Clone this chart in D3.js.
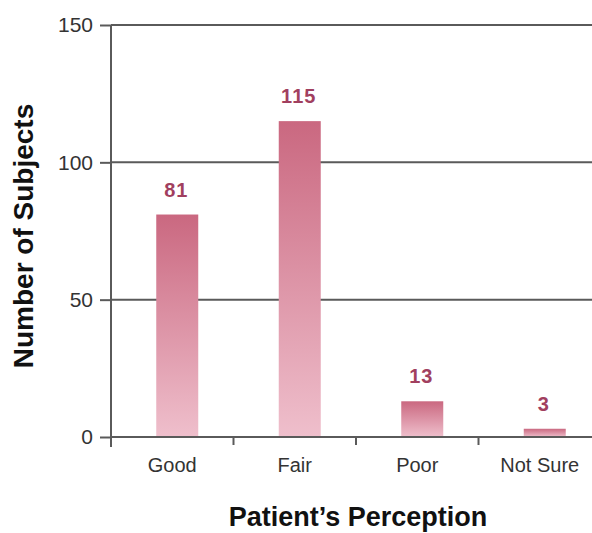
<!DOCTYPE html>
<html>
<head>
<meta charset="utf-8">
<script src="https://cdn.jsdelivr.net/npm/d3@7"></script>
<style>
  html, body { margin: 0; padding: 0; background: #fff; }
  svg { display: block; }
</style>
</head>
<body>
<script>
const categories = ["Good", "Fair", "Poor", "Not Sure"];
const values = [81, 115, 13, 3];
const yTicks = [0, 50, 100, 150];

const W = 592, H = 533;
const svg = d3.select("body").append("svg").attr("width", W).attr("height", H);

const x = d3.scaleBand().domain(categories).range([111, 601]);
const y = d3.scaleLinear().domain([0, 150]).range([437, 25]);

const defs = svg.append("defs");
const grad = defs.append("linearGradient").attr("id", "barGrad")
  .attr("x1", 0).attr("y1", 0).attr("x2", 0).attr("y2", 1);
grad.append("stop").attr("offset", "0%").attr("stop-color", "#ca6880");
grad.append("stop").attr("offset", "100%").attr("stop-color", "#efbfcc");

const lineColor = "#5a5a5a";

// gridlines
svg.append("g").selectAll("line").data(yTicks.filter(t => t > 0)).join("line")
  .attr("x1", 111).attr("x2", W)
  .attr("y1", d => y(d)).attr("y2", d => y(d))
  .attr("stroke", lineColor).attr("stroke-width", 2);

// bars
const barW = 42;
const barOffset = 5;
svg.append("g").selectAll("rect").data(categories).join("rect")
  .attr("x", (d) => x(d) + x.bandwidth() / 2 + barOffset - barW / 2)
  .attr("width", barW)
  .attr("y", (d, i) => y(values[i]))
  .attr("height", (d, i) => y(0) - y(values[i]))
  .attr("fill", "url(#barGrad)");

// value labels
svg.append("g").selectAll("text").data(categories).join("text")
  .attr("x", d => x(d) + x.bandwidth() / 2 + barOffset - 1)
  .attr("y", (d, i) => y(values[i]) - 18)
  .attr("text-anchor", "middle")
  .attr("font-family", "Liberation Sans, Arial, sans-serif")
  .attr("font-weight", "bold")
  .attr("font-size", 20)
  .attr("letter-spacing", 1)
  .attr("fill", "#a13f5f")
  .text((d, i) => values[i]);

// y axis
const yAxis = d3.axisLeft(y).tickValues(yTicks).tickSize(11).tickPadding(7);
const gy = svg.append("g").attr("transform", "translate(111,0)").call(yAxis);
gy.select(".domain").remove();
gy.append("line").attr("x1", 0).attr("x2", 0).attr("y1", y(150)).attr("y2", 447)
  .attr("stroke", lineColor).attr("stroke-width", 2);
gy.selectAll(".tick line").attr("stroke", lineColor).attr("stroke-width", 2);
gy.selectAll(".tick text")
  .attr("font-family", "Liberation Sans, Arial, sans-serif")
  .attr("font-size", 21).attr("fill", "#333");

// x axis
const gx = svg.append("g").attr("transform", `translate(0,${y(0)})`);
gx.append("line").attr("x1", 111).attr("x2", W).attr("y1", 0).attr("y2", 0)
  .attr("stroke", lineColor).attr("stroke-width", 2);
gx.selectAll("line.sep").data(categories.slice(1)).join("line").attr("class", "sep")
  .attr("x1", d => x(d)).attr("x2", d => x(d))
  .attr("y1", 0).attr("y2", 8)
  .attr("stroke", lineColor).attr("stroke-width", 2);
gx.selectAll("text").data(categories).join("text")
  .attr("x", d => x(d) + x.bandwidth() / 2)
  .attr("y", 35)
  .attr("text-anchor", "middle")
  .attr("font-family", "Liberation Sans, Arial, sans-serif")
  .attr("font-size", 20).attr("fill", "#333")
  .text(d => d);

// axis titles
svg.append("text")
  .attr("x", 358).attr("y", 526)
  .attr("text-anchor", "middle")
  .attr("font-family", "Liberation Sans, Arial, sans-serif")
  .attr("font-weight", "bold").attr("font-size", 27).attr("fill", "#111")
  .text("Patient\u2019s Perception");

svg.append("text")
  .attr("transform", "translate(33,236) rotate(-90)")
  .attr("text-anchor", "middle")
  .attr("font-family", "Liberation Sans, Arial, sans-serif")
  .attr("font-weight", "bold").attr("font-size", 28).attr("fill", "#111")
  .text("Number of Subjects");
</script>
</body>
</html>
